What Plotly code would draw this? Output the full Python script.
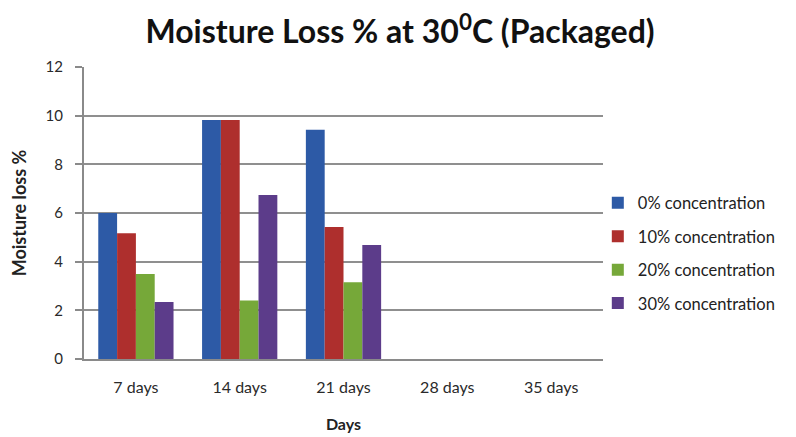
import plotly.graph_objects as go

categories = ["7 days", "14 days", "21 days", "28 days", "35 days"]
series_names = ["0% concentration", "10% concentration", "20% concentration", "30% concentration"]
conc_0 = [6.0, 9.82, 9.42, None, None]
conc_10 = [5.17, 9.82, 5.42, None, None]
conc_20 = [3.49, 2.40, 3.15, None, None]
conc_30 = [2.34, 6.74, 4.68, None, None]
y_ticks = [0, 2, 4, 6, 8, 10, 12]

colors = ["#2D5AA6", "#AE2F2D", "#76A839", "#5C3C8A"]
values = [conc_0, conc_10, conc_20, conc_30]

fig = go.Figure()
for i, (name, vals) in enumerate(zip(series_names, values)):
    fig.add_trace(go.Bar(
        x=categories, y=vals, name=name,
        marker=dict(color=colors[i], line=dict(width=0)),
        legendgroup=f"g{i}",
    ))

font_family = "Lato, 'Open Sans', sans-serif"
fig.update_layout(
    width=796, height=437,
    margin=dict(l=76, r=201, t=59, b=86, autoexpand=False),
    paper_bgcolor="white", plot_bgcolor="white",
    barmode="group", bargap=0.275, bargroupgap=0,
    title=dict(text="<b>Moisture Loss % at 30<sup>0</sup>C (Packaged)</b>",
               x=0.4925, xref="container", xanchor="center",
               y=0.945, yref="container", yanchor="middle",
               font=dict(family=font_family, size=32, color="#111111")),
    font=dict(family=font_family, size=13, color="#222222"),
    showlegend=True,
    legend=dict(x=0.99, xanchor="left", y=0.363, yanchor="middle",
                font=dict(size=16.5, color="#222222"), tracegroupgap=9,
                bgcolor="rgba(0,0,0,0)"),
    xaxis=dict(
        categoryorder="array", categoryarray=categories,
        showline=True, linecolor="#8a8a8a", linewidth=2,
        showgrid=False, ticks="", tickfont=dict(size=16, color="#2a2a2a"),
        ticklabelstandoff=13,
        title=dict(text="<b>Days</b>", font=dict(size=16), standoff=24),
    ),
    yaxis=dict(
        range=[0, 12], tickvals=y_ticks,
        showgrid=True, gridcolor="#8f8f8f", gridwidth=2,
        showline=True, linecolor="#8a8a8a", linewidth=2,
        ticks="outside", ticklen=7, tickcolor="#8a8a8a", tickwidth=2,
        ticklabelstandoff=9,
        tickfont=dict(size=15, color="#2a2a2a"), zeroline=False,
        title=dict(text="<b>Moisture loss %</b>", font=dict(size=18), standoff=14),
    ),
)

fig.write_html("out.html")
